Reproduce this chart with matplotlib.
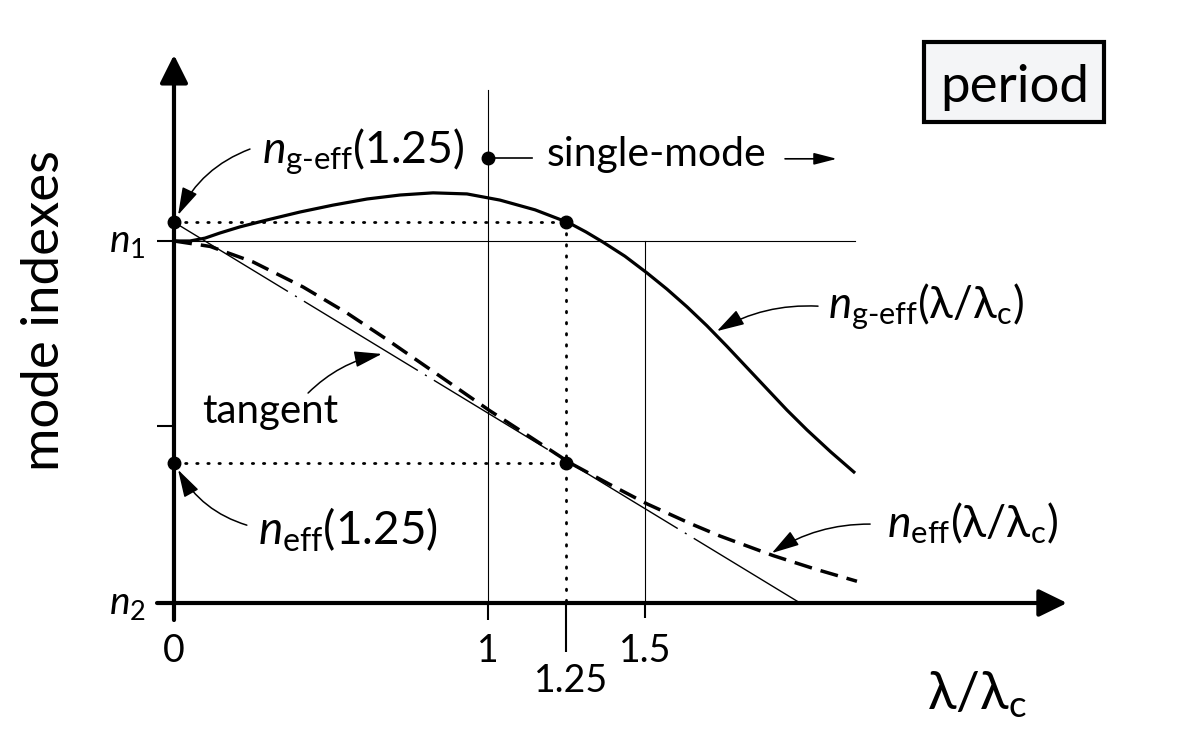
import matplotlib
matplotlib.use('Agg')
import matplotlib.pyplot as plt
from matplotlib.patches import Rectangle

plt.rcParams['font.family'] = ['Lato', 'DejaVu Sans']
plt.rcParams['mathtext.fontset'] = 'custom'
plt.rcParams['mathtext.rm'] = 'Lato'
plt.rcParams['mathtext.it'] = 'Lato:italic'
plt.rcParams['mathtext.bf'] = 'Lato:bold'
plt.rcParams['mathtext.fallback'] = 'stixsans'

# ---------------- data (x = lambda/lambda_c, y = normalised index: n2 -> 0, n1 -> 1)
x_ng = [0.0, 0.051, 0.099, 0.146, 0.210, 0.296, 0.401, 0.506, 0.615, 0.720,
        0.825, 0.933, 1.038, 1.150, 1.258, 1.312, 1.366, 1.436, 1.506, 1.570,
        1.634, 1.697, 1.761, 1.825, 1.889, 1.952, 2.016, 2.092, 2.169]
y_ng = [1.000, 1.000, 1.008, 1.022, 1.039, 1.058, 1.080, 1.099, 1.116, 1.127,
        1.133, 1.130, 1.113, 1.086, 1.050, 1.025, 0.997, 0.958, 0.912, 0.867,
        0.818, 0.766, 0.709, 0.650, 0.591, 0.533, 0.478, 0.417, 0.359]

x_ne = [0.0, 0.115, 0.252, 0.411, 0.551, 0.678, 0.838, 1.006, 1.134, 1.261,
        1.389, 1.506, 1.643, 1.739, 1.908, 2.041, 2.175]
y_ne = [1.000, 0.985, 0.942, 0.873, 0.801, 0.728, 0.632, 0.531, 0.459, 0.387,
        0.327, 0.274, 0.220, 0.185, 0.131, 0.094, 0.060]

x_tan = [0.0, 1.994]
y_tan = [1.052, 0.0]

x_mark = 1.25
ng_mark = 1.052
ne_mark = 0.387

x_ticks = [0, 1, 1.25, 1.5]
x_tick_labels = ['0', '1', '1.25', '1.5']
y_ticks = [1.0, 0.489, 0.0]
y_tick_labels = [r'$n_1$', '', r'$n_2$']

x_cut = 1.0
x_right = 1.5
single_mode_y = 1.230

lab_ng125 = r'$n_{\mathrm{g}\text{-}\mathrm{eff}}$(1.25)'
lab_ne125 = r'$n_{\mathrm{eff}}$(1.25)'
lab_ng = r'$n_{\mathrm{g}\text{-}\mathrm{eff}}$(λ/λ$_{\mathrm{c}}$)'
lab_ne = r'$n_{\mathrm{eff}}$(λ/λ$_{\mathrm{c}}$)'

# ---------------- figure
fig = plt.figure(figsize=(12, 7.41), dpi=100)
ax = fig.add_axes([0, 0, 1, 1])
ax.set_xlim(-0.5541, 3.2675)
ax.set_ylim(-0.3812, 1.6657)
ax.axis('off')

K = 'black'
thin = 0.8

# axes with arrows
ax.annotate('', xy=(0, 1.514), xytext=(0, -0.047),
            arrowprops=dict(arrowstyle='-|>,head_length=0.86,head_width=0.43',
                            mutation_scale=20, lw=3, color=K, shrinkA=0, shrinkB=0))
ax.annotate('', xy=(2.844, 0), xytext=(-0.054, 0),
            arrowprops=dict(arrowstyle='-|>,head_length=0.86,head_width=0.42',
                            mutation_scale=20, lw=3, color=K, shrinkA=0, shrinkB=0))

# y ticks
for yt, yl in zip(y_ticks, y_tick_labels):
    ax.plot([-0.054, 0], [yt, yt], color=K, lw=1.5, solid_capstyle='butt')
    if yl:
        ax.text(-0.090, yt - 0.03, yl, fontsize=28, ha='right', va='baseline')

# x ticks
tick_len = {0: 0.047, 1: 0.047, 1.25: 0.135, 1.5: 0.041}
for xt, xl in zip(x_ticks, x_tick_labels):
    ax.plot([xt, xt], [0, -tick_len[xt]], color=K, lw=1.5, solid_capstyle='butt')
    ytop = -0.166 if xt == 1.25 else -0.083
    ax.text(xt + (0.015 if xt == 1.25 else 0.0), ytop, xl, fontsize=27, ha='center', va='top')

# guide lines
ax.plot([0, 2.169], [1, 1], color=K, lw=thin)
ax.plot([x_cut, x_cut], [0, 1.417], color=K, lw=thin)
ax.plot([x_right, x_right], [0, 1], color=K, lw=thin)

# dotted helper lines
dot_kw = dict(color=K, lw=2, linestyle=(0, (0.5, 3.5)), dash_capstyle='round')
ax.plot([0, x_mark], [ng_mark, ng_mark], **dot_kw)
ax.plot([0, x_mark], [ne_mark, ne_mark], **dot_kw)
ax.plot([x_mark, x_mark], [ng_mark, 0], **dot_kw)

# tangent (thin dash-dot)
ax.plot(x_tan, y_tan, color=K, lw=1.0, linestyle=(0, (96, 6, 1.5, 6)))

# curves
ax.plot(x_ng, y_ng, color=K, lw=2.3, solid_capstyle='butt', solid_joinstyle='round')
ax.plot(x_ne, y_ne, color=K, lw=2.5, linestyle=(0, (5.2, 2.6)))

# markers
ms = 9
ax.plot([0, 0, x_mark, x_mark], [ng_mark, ne_mark, ng_mark, ne_mark], 'o', color=K, ms=ms)
ax.plot([x_cut], [single_mode_y], 'o', color=K, ms=ms)

# single-mode annotation
ax.plot([x_cut, 1.140], [single_mode_y, single_mode_y], color=K, lw=1.2)
ax.text(1.188, 1.207, 'single-mode', fontsize=29.5, ha='left', va='baseline')
ax.annotate('', xy=(2.111, 1.227), xytext=(1.946, 1.227),
            arrowprops=dict(arrowstyle='-|>,head_length=0.7,head_width=0.18',
                            mutation_scale=20, lw=1.2, color=K, shrinkA=0, shrinkB=0))

# labels with curved arrows
arr = dict(arrowstyle='-|>,head_length=0.85,head_width=0.25', mutation_scale=20,
           lw=1.1, color=K, shrinkA=0, shrinkB=0)
ax.text(0.280, 1.215, lab_ng125, fontsize=32, ha='left', va='baseline')
ax.annotate('', xy=(0.013, 1.072), xytext=(0.242, 1.254),
            arrowprops=dict(connectionstyle='arc3,rad=0.2', **arr))
ax.text(0.268, 0.160, lab_ne125, fontsize=33, ha='left', va='baseline')
ax.annotate('', xy=(0.013, 0.368), xytext=(0.232, 0.215),
            arrowprops=dict(connectionstyle='arc3,rad=-0.2', **arr))
ax.text(0.089, 0.497, 'tangent', fontsize=29, ha='left', va='baseline')
ax.annotate('', xy=(0.662, 0.688), xytext=(0.427, 0.580),
            arrowprops=dict(connectionstyle='arc3,rad=-0.15', **arr))
ax.text(2.083, 0.787, lab_ng, fontsize=31.5, ha='left', va='baseline')
ax.annotate('', xy=(1.729, 0.751), xytext=(2.051, 0.820),
            arrowprops=dict(connectionstyle='arc3,rad=0.15', **arr))
ax.text(2.271, 0.182, lab_ne, fontsize=32, ha='left', va='baseline')
ax.annotate('', xy=(1.904, 0.138), xytext=(2.217, 0.218),
            arrowprops=dict(connectionstyle='arc3,rad=0.15', **arr))

# axis titles
ax.text(-0.411, 0.809, 'mode indexes', fontsize=38, rotation=90, ha='center', va='center')
ax.text(2.398, -0.296, 'λ/λ$_{\\mathrm{c}}$', fontsize=38, ha='left', va='baseline')

# period box
ax.add_patch(Rectangle((2.389, 1.329), 0.573, 0.221, facecolor='#f4f5f7',
                       edgecolor=K, lw=3))
ax.text(2.677, 1.384, 'period', fontsize=38, ha='center', va='baseline')

fig.savefig('out.png', dpi=100, facecolor='white')
